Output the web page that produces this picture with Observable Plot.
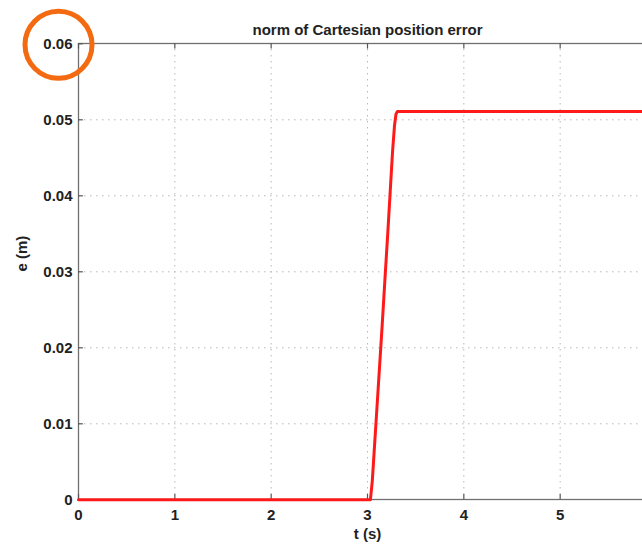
<!DOCTYPE html>
<html>
<head>
<meta charset="utf-8">
<script src="https://cdn.jsdelivr.net/npm/d3@7"></script>
<script src="https://cdn.jsdelivr.net/npm/@observablehq/plot@0.6"></script>
<style>
  html, body { margin: 0; padding: 0; overflow: hidden; background: #fff; }
  #chart svg { max-width: none !important; height: 546px !important; }
</style>
</head>
<body>
<div id="chart"></div>
<script>
// Norm of the Cartesian position error over time
const t = [0, 1, 2, 3, 3.03, 3.05, 3.07, 3.09, 3.12, 3.15, 3.18, 3.21, 3.24, 3.26, 3.28, 3.295, 3.31, 4, 5, 6];
const e = [0, 0, 0, 0, 0, 0.0025, 0.0065, 0.0105, 0.0165, 0.0225, 0.0288, 0.035, 0.0415, 0.0458, 0.0492, 0.0507, 0.0511, 0.0511, 0.0511, 0.0511];

const xTicks = [0, 1, 2, 3, 4, 5];
const yTicks = [0, 0.01, 0.02, 0.03, 0.04, 0.05, 0.06];
const yTickLabels = ["0", "0.01", "0.02", "0.03", "0.04", "0.05", "0.06"];

const titleText = "norm of Cartesian position error";
const xLabel = "t (s)";
const yLabel = "e (m)";

const series = t.map((v, i) => ({t: v, e: e[i]}));

const ink = "#222";
const gridStyle = {stroke: "#b8b8b8", strokeOpacity: 1, strokeDasharray: "1.5,4.5", strokeWidth: 1};

const chart = Plot.plot({
  width: 660,
  height: 546,
  marginLeft: 78,
  marginTop: 43,
  marginBottom: 47,
  marginRight: 4,
  style: {fontFamily: "'Liberation Sans', Arial, sans-serif", fontSize: "15px", fontWeight: "bold", color: ink, background: "#fff", maxWidth: "none"},
  x: {domain: [0, 6], range: [78, 656]},
  y: {domain: [0, 0.06], range: [499.3, 43.3]},
  marks: [
    Plot.gridX(xTicks.slice(1), gridStyle),
    Plot.gridY(yTicks.slice(1, -1), gridStyle),
    Plot.frame({stroke: "#707070", strokeWidth: 1.3}),
    // inward tick marks on bottom, top and left edges
    Plot.ruleX(xTicks, {y1: 0, y2: 0.0007, stroke: "#555", strokeWidth: 1.2}),
    Plot.ruleX(xTicks, {y1: 0.06, y2: 0.0593, stroke: "#555", strokeWidth: 1.2}),
    Plot.ruleY(yTicks, {x1: 0, x2: 0.05, stroke: "#555", strokeWidth: 1.2}),
    Plot.line(series, {x: "t", y: "e", stroke: "#ff1a1a", strokeWidth: 3, strokeLinejoin: "round"}),
    Plot.axisX(xTicks, {tickSize: 0, tickPadding: 10, fill: ink, fontWeight: "bold", fontSize: 15, label: null}),
    Plot.axisY(yTicks, {tickSize: 0, tickPadding: 6, fill: ink, fontWeight: "bold", fontSize: 15, label: null,
      tickFormat: d => yTickLabels[yTicks.indexOf(d)]}),
    Plot.text([titleText], {frameAnchor: "top", dy: -19, fill: ink, fontWeight: "bold", fontSize: 15}),
    Plot.text([xLabel], {frameAnchor: "bottom", dy: 39, fill: ink, fontWeight: "bold", fontSize: 15}),
    Plot.text([yLabel], {frameAnchor: "left", dx: -56, rotate: -90, fill: ink, fontWeight: "bold", fontSize: 15}),
    // highlight ring around the top y tick
    Plot.dot([{x: 0, y: 0.06}], {x: "x", y: "y", r: 33.5, dx: -20, dy: 1, stroke: "#f36a10", strokeWidth: 5, fill: "none"})
  ]
});

document.getElementById("chart").appendChild(chart);
</script>
</body>
</html>
